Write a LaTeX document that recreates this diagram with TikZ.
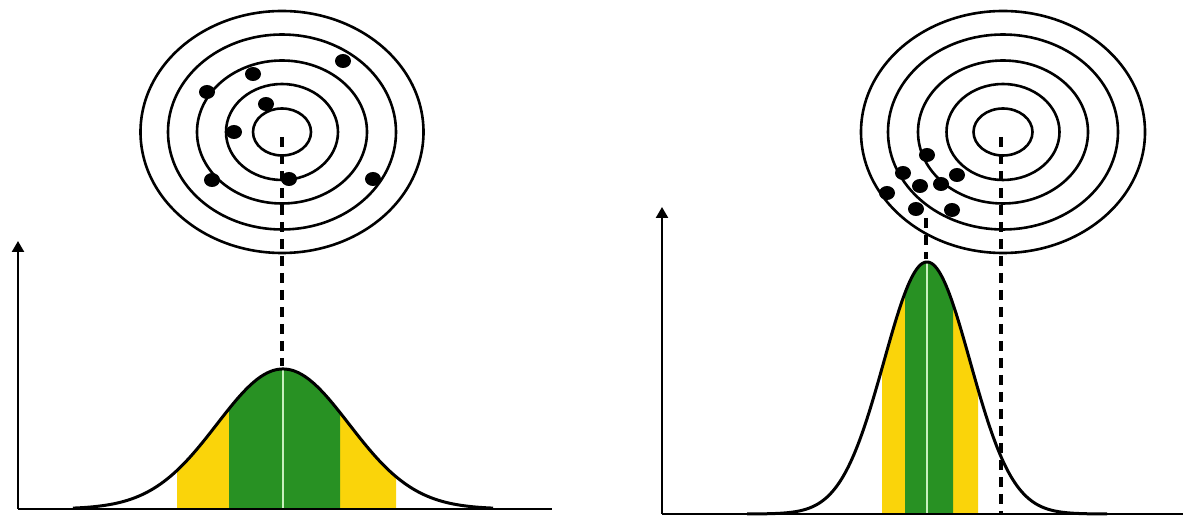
\documentclass[tikz,border=0pt]{standalone}
\usetikzlibrary{arrows.meta}
\definecolor{bandgreen}{RGB}{40,145,35}
\definecolor{bandyellow}{RGB}{250,212,10}
\definecolor{midline}{RGB}{200,240,190}
\tikzset{
  ring/.style={line width=1.3pt},
  shot/.style={fill=black},
  axisline/.style={line width=1.2pt,-{Triangle[length=5.5pt,width=6pt]}},
  baseline/.style={line width=1.4pt},
  curve/.style={line width=1.5pt},
  guide/.style={line width=2pt,dash pattern=on 5pt off 3.5pt},
  centreline/.style={midline,line width=1pt}
}
\begin{document}
\begin{tikzpicture}[x=0.5pt,y=-0.5pt]
\useasboundingbox (0,0) rectangle (1183,517);

% ---------------- left panel ----------------
\fill[bandyellow] (177,509) -- plot[domain=-106:113,samples=80] ({283+\x},{509-140*exp(-((\x/66)^2)/2)}) -- (396,509) -- cycle;
\fill[bandgreen] (229,509) -- plot[domain=-54:57,samples=60] ({283+\x},{509-140*exp(-((\x/66)^2)/2)}) -- (340,509) -- cycle;
\coordinate (lpk) at (283,369);
\coordinate (lbase) at (283,509);
\draw[centreline] (lpk) -- (lbase);
\draw[curve] plot[domain=-210:210,samples=200] ({283+\x},{509-140*exp(-((\x/66)^2)/2)});
% axes
\coordinate (lorig) at (18,509);
\coordinate (ltop) at (18,241);
\coordinate (lend) at (552,509);
\draw[axisline] (lorig) -- (ltop);
\draw[baseline] (lorig) -- (lend);
% target
\coordinate (ltc) at (282,132);
\foreach \rx/\ry in {141.5/121,114/97.5,85/71.5,56/48,29/23.5}
  \draw[ring] (ltc) ellipse [x radius=\rx, y radius=\ry];
\foreach \p in {(343,61),(253,74),(207,92),(266,104),(234,132),(212,180),(289,179),(373,179)}
  \fill[shot] \p ellipse [x radius=8, y radius=7];
\coordinate (ldash) at (282,137);
\coordinate (lpkd) at (282,366);
\draw[guide] (ldash) -- (lpkd);

% ---------------- right panel ----------------
\fill[bandyellow] (882,514) -- plot[domain=-45:51,samples=80] ({927+\x},{514-252*exp(-((\x/43)^2)/2)}) -- (978,514) -- cycle;
\fill[bandgreen] (905,514) -- plot[domain=-22:26,samples=60] ({927+\x},{514-252*exp(-((\x/43)^2)/2)}) -- (953,514) -- cycle;
\coordinate (rpk) at (927,262);
\coordinate (rbase) at (927,514);
\draw[centreline] (rpk) -- (rbase);
\draw[curve] plot[domain=-180:180,samples=200] ({927+\x},{514-252*exp(-((\x/43)^2)/2)});
% axes
\coordinate (rorig) at (662,514);
\coordinate (rtop) at (662,207);
\coordinate (rend) at (1183,514);
\draw[axisline] (rorig) -- (rtop);
\draw[baseline] (rorig) -- (rend);
% target
\coordinate (rtc) at (1003,132);
\foreach \rx/\ry in {142/121,115/97.5,85/71.5,56.5/48,29.5/23.5}
  \draw[ring] (rtc) ellipse [x radius=\rx, y radius=\ry];
\foreach \p in {(927,155),(903,173),(957,175),(941,184),(920,186),(887,193),(916,209),(952,210)}
  \fill[shot] \p ellipse [x radius=8, y radius=7];
\coordinate (rdash) at (1001,137);
\coordinate (rdashend) at (1001,514);
\draw[guide] (rdash) -- (rdashend);
\coordinate (cdash) at (926,218);
\coordinate (cdashend) at (926,259);
\draw[guide] (cdash) -- (cdashend);
\end{tikzpicture}
\end{document}
